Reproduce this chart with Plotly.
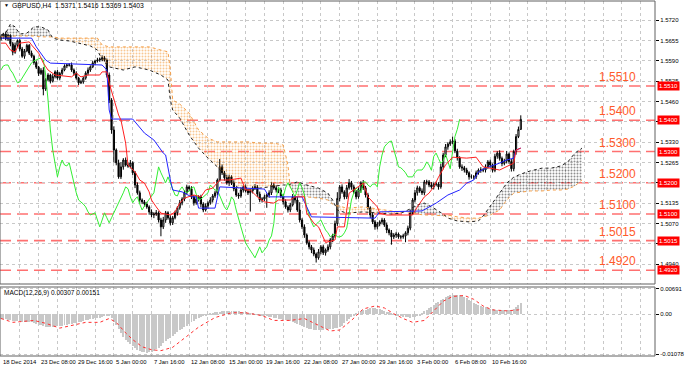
import plotly.graph_objects as go

# ---------------- data ----------------
close = [
    1.5668, 1.5676, 1.5660, 1.5672, 1.5645, 1.5618, 1.5640, 1.5655, 1.5628, 1.5605,
    1.5622, 1.5640, 1.5615, 1.5605, 1.5585, 1.5570, 1.5550, 1.5560, 1.5500, 1.5530,
    1.5545, 1.5525, 1.5540, 1.5555, 1.5535, 1.5550,
    1.5561, 1.5574, 1.5577, 1.5577, 1.5561, 1.5551, 1.5535, 1.5520, 1.5523, 1.5535,
    1.5551, 1.5561, 1.5571, 1.5584, 1.5590, 1.5593, 1.5596, 1.5600, 1.5593,
    1.5545, 1.5465, 1.5369, 1.5305, 1.5264, 1.5219, 1.5251, 1.5273, 1.5257, 1.5254,
    1.5264, 1.5232, 1.5193, 1.5168, 1.5145, 1.5139,
    1.5132, 1.5123, 1.5107, 1.5097, 1.5100, 1.5104, 1.5081, 1.5059, 1.5081, 1.5104,
    1.5088, 1.5072, 1.5088, 1.5104, 1.5120, 1.5136, 1.5148, 1.5168, 1.5187, 1.5181,
    1.5155, 1.5136, 1.5148, 1.5155, 1.5132, 1.5113, 1.5126, 1.5136, 1.5145, 1.5158,
    1.5168, 1.5209, 1.5251, 1.5232, 1.5216, 1.5200, 1.5219, 1.5200, 1.5181, 1.5161,
    1.5158, 1.5177, 1.5187, 1.5174, 1.5168, 1.5174, 1.5184, 1.5187, 1.5164, 1.5145,
    1.5148, 1.5155, 1.5161, 1.5168, 1.5193, 1.5184, 1.5177, 1.5177, 1.5158, 1.5139,
    1.5123, 1.5113, 1.5129, 1.5155, 1.5145, 1.5113, 1.5081, 1.5059, 1.5033, 1.5008,
    1.4995, 1.4985, 1.4972, 1.4960, 1.4979, 1.4995, 1.4976, 1.4985, 1.4995, 1.5017,
    1.5030, 1.5070, 1.5150, 1.5187, 1.5171, 1.5155, 1.5184, 1.5200, 1.5187, 1.5171,
    1.5155, 1.5177, 1.5200, 1.5184, 1.5161, 1.5120, 1.5097, 1.5075, 1.5059, 1.5068,
    1.5075, 1.5081, 1.5065, 1.5049, 1.5040, 1.5027, 1.5033, 1.5036, 1.5027, 1.5027,
    1.5030, 1.5040, 1.5055, 1.5104, 1.5145, 1.5168, 1.5184, 1.5174, 1.5168, 1.5203,
    1.5203, 1.5193, 1.5187, 1.5196, 1.5196, 1.5187, 1.5251, 1.5289, 1.5315, 1.5324,
    1.5331, 1.5334, 1.5302, 1.5280, 1.5251, 1.5248, 1.5241, 1.5232, 1.5219, 1.5219,
    1.5219, 1.5232, 1.5241, 1.5241, 1.5241, 1.5251, 1.5267,
    1.5257, 1.5240, 1.5285, 1.5295, 1.5278, 1.5262, 1.5270, 1.5292, 1.5268, 1.5245,
    1.5300, 1.5348, 1.5371, 1.5403,
]
first_open = 1.5660

# wick lengths in pips
upper_wick = [
    6, 4, 8, 5, 3, 6, 9, 4, 5, 7, 6, 5, 4, 8, 5, 6, 4, 7, 10, 5, 6, 4, 8, 5, 6, 5,
    7, 5, 4, 6, 8, 5, 6, 4, 7, 5, 6, 8, 5, 6, 4, 7, 5, 8, 6,
    5, 8, 6, 12, 5, 10, 15, 6, 8, 7, 9, 5, 6, 8, 7, 5,
    6, 7, 5, 8, 6, 9, 5, 7, 10, 6,
    5, 8, 6, 7, 5, 9, 6, 8, 7, 5,
    8, 6, 10, 5, 7, 6, 8, 5, 9, 6,
    7, 5, 25, 8, 6, 10, 7, 5, 8, 6,
    7, 9, 5, 8, 6, 7, 5, 9, 6, 8,
    6, 7, 5, 8, 10, 6, 8, 5, 7, 6,
    8, 5, 7, 9, 6, 10, 25, 6, 8, 5,
    7, 6, 8, 5, 9, 6, 7, 5, 8, 6,
    7, 9, 20, 6, 8, 5, 9, 12, 6, 7,
    6, 8, 5, 9, 6, 7, 5, 8, 6, 7,
    5, 7, 6, 8, 5, 9, 6, 7, 5, 6,
    7, 5, 8, 10, 6, 9, 7, 5, 8, 6,
    7, 6, 9, 5, 8, 6, 10, 7, 9, 6,
    8, 14, 6, 7, 5, 8, 6, 7, 5, 8,
    6, 7, 5, 9, 6, 8, 6,
    7, 5, 8, 6, 9, 6, 7, 10, 5, 8, 6, 8, 9, 13,
]
lower_wick = [
    5, 7, 4, 6, 8, 10, 5, 6, 7, 5, 8, 4, 6, 5, 7, 6, 8, 5, 20, 6, 5, 7, 4, 6, 5, 7,
    6, 4, 7, 5, 6, 8, 5, 7, 4, 6, 5, 7, 6, 4, 8, 5, 6, 7, 5,
    8, 10, 12, 40, 8, 6, 7, 9, 5, 6, 8, 7, 10, 6, 9, 7,
    8, 6, 9, 7, 10, 6, 8, 30, 7, 9,
    6, 8, 7, 5, 9, 6, 8, 7, 5, 8,
    7, 9, 6, 8, 10, 7, 5, 9, 6, 8,
    6, 8, 5, 7, 9, 6, 10, 7, 8, 6,
    9, 6, 8, 5, 7, 60, 8, 6, 9, 7,
    8, 6, 35, 9, 7, 6, 8, 10, 7, 9,
    6, 8, 7, 5, 9, 6, 8, 7, 9, 6,
    8, 10, 7, 15, 6, 8, 7, 9, 6, 8,
    7, 6, 8, 9, 6, 8, 7, 6, 9, 7,
    8, 6, 9, 7, 8, 6, 10, 7, 9, 8,
    7, 8, 6, 10, 8, 25, 7, 9, 6, 8,
    6, 20, 8, 7, 6, 8, 9, 6, 7, 8,
    9, 7, 6, 8, 7, 9, 6, 8, 7, 9,
    6, 8, 7, 9, 6, 10, 8, 7, 9, 6,
    8, 7, 6, 9, 7, 8, 6,
    9, 7, 6, 8, 7, 9, 6, 8, 7, 9, 8, 10, 5, 2,
]

tenkan_bar = [0, 2, 4, 6, 8, 12, 13, 16, 18, 20, 23, 28, 30, 32, 34, 37, 42, 43, 45, 46,
              48, 50, 51, 53, 54, 57, 59, 61, 63, 64, 66, 68, 72, 74, 76, 78, 82, 85, 87, 90,
              93, 97, 102, 104, 106, 109, 112, 116, 118, 123, 125, 129, 130, 133, 135, 138, 142, 143, 146, 147,
              148, 154, 156, 160, 161, 164, 175, 177, 180, 182, 184, 186, 189, 192, 198, 202, 205, 212, 215, 218,
              219, 221]
tenkan_val = [1.5647, 1.5647, 1.5625, 1.5619, 1.5647, 1.5651, 1.5641, 1.5615, 1.5583, 1.5561,
              1.5545, 1.5539, 1.5539, 1.5551, 1.5539, 1.5545, 1.5545, 1.5555, 1.5555, 1.5519,
              1.5465, 1.5417, 1.5401, 1.5327, 1.5257, 1.5235, 1.5209, 1.5199, 1.5171, 1.5145,
              1.5123, 1.5103, 1.5097, 1.5107, 1.5135, 1.5151, 1.5161, 1.5155, 1.5177, 1.5183,
              1.5209, 1.5209, 1.5215, 1.5177, 1.5177, 1.5155, 1.5139, 1.5135, 1.5145, 1.5145,
              1.5155, 1.5155, 1.5103, 1.5071, 1.5059, 1.5009, 1.5017, 1.5059, 1.5059, 1.5123,
              1.5167, 1.5199, 1.5155, 1.5123, 1.5103, 1.5097, 1.5097, 1.5123, 1.5155, 1.5167,
              1.5187, 1.5218, 1.5257, 1.5282, 1.5279, 1.5282, 1.5251, 1.5241, 1.5251, 1.5263,
              1.5305, 1.5311]

kijun_bar = [0, 13, 15, 19, 21, 43, 45, 46, 47, 56, 61, 65, 69, 70, 72, 73, 77, 81, 83, 84,
             91, 93, 112, 114, 128, 130, 132, 159, 161, 179, 185, 190, 195, 198, 201, 203, 206, 212, 215, 218,
             219, 221]
kijun_val = [1.5663, 1.5663, 1.5635, 1.5593, 1.5583, 1.5577, 1.5561, 1.5433, 1.5404, 1.5404,
             1.5359, 1.5337, 1.5295, 1.5289, 1.5209, 1.5177, 1.5171, 1.5155, 1.5155, 1.5119,
             1.5119, 1.5187, 1.5180, 1.5155, 1.5155, 1.5123, 1.5091, 1.5087, 1.5107, 1.5110,
             1.5135, 1.5161, 1.5177, 1.5199, 1.5209, 1.5235, 1.5247, 1.5263, 1.5273, 1.5279,
             1.5305, 1.5311]

cloud_bar = [0, 2, 4, 6, 8, 11, 14, 17, 20, 22, 25, 29, 33, 38, 41, 43, 46, 52, 57, 63,
             68, 71, 72, 73, 76, 80, 84, 88, 92, 97, 101, 105, 110, 116, 120, 122, 123, 126, 130, 135,
             139, 141, 143, 147, 154, 160, 166, 170, 173, 177, 180, 184, 188, 190, 194, 199, 203, 205, 208, 212,
             215, 218, 221, 225, 230, 234, 238, 241, 244, 247]
span_a = [1.5673, 1.5679, 1.5708, 1.5699, 1.5676, 1.5679, 1.5699, 1.5699, 1.5689, 1.5663,
          1.5657, 1.5654, 1.5647, 1.5638, 1.5625, 1.5593, 1.5571, 1.5561, 1.5571, 1.5561,
          1.5545, 1.5529, 1.5465, 1.5433, 1.5407, 1.5353, 1.5311, 1.5279, 1.5251, 1.5209,
          1.5183, 1.5177, 1.5183, 1.5190, 1.5193, 1.5193, 1.5196, 1.5203, 1.5193, 1.5183,
          1.5167, 1.5145, 1.5113, 1.5103, 1.5107, 1.5103, 1.5100, 1.5103, 1.5113, 1.5129,
          1.5135, 1.5119, 1.5100, 1.5087, 1.5078, 1.5075, 1.5078, 1.5094, 1.5127, 1.5167,
          1.5199, 1.5218, 1.5228, 1.5238, 1.5247, 1.5247, 1.5254, 1.5267, 1.5295, 1.5311]
span_b = [1.5667, 1.5667, 1.5667, 1.5670, 1.5670, 1.5670, 1.5670, 1.5667, 1.5667, 1.5667,
          1.5663, 1.5663, 1.5663, 1.5663, 1.5663, 1.5641, 1.5635, 1.5635, 1.5635, 1.5635,
          1.5625, 1.5619, 1.5561, 1.5465, 1.5452, 1.5423, 1.5369, 1.5343, 1.5331, 1.5331,
          1.5331, 1.5331, 1.5327, 1.5327, 1.5321, 1.5257, 1.5183, 1.5161, 1.5155, 1.5151,
          1.5145, 1.5132, 1.5127, 1.5119, 1.5123, 1.5116, 1.5110, 1.5107, 1.5107, 1.5100,
          1.5097, 1.5097, 1.5094, 1.5097, 1.5091, 1.5087, 1.5087, 1.5091, 1.5097, 1.5113,
          1.5145, 1.5167, 1.5171, 1.5174, 1.5174, 1.5177, 1.5177, 1.5180, 1.5190, 1.5209]

# MACD main (histogram), in units of 0.00001
macd_hist = [
    -114, -125, -140, -155, -166, -175, -182, -188, -192, -198,
    -204, -210, -214, -218, -240, -260, -285, -300, -320, -335,
    -345, -348, -345, -338, -330, -322, -310, -296, -282, -270,
    -258, -245, -232, -220, -205, -185, -165, -150, -135, -122,
    -110, -98, -88, -70, -50, -36, -55, -110, -200, -300,
    -400, -520, -620, -700, -760, -810, -860, -920, -960, -990,
    -1010, -1030, -1040, -1035, -1020, -990, -950, -900, -850, -790,
    -735, -680, -630, -590, -530, -480, -430, -390, -355, -320,
    -270, -220, -170, -120, -88, -60, -40, -20, -10, 10,
    30, 50, 65, 75, 85, 90, 92, 94, 94, 92,
    88, 82, 75, 68, 55, 42, 28, 16, 5, -10,
    -22, -30, -36, -50, -70, -85, -100, -110, -114, -130,
    -145, -158, -166, -190, -215, -240, -265, -295, -320, -345,
    -370, -385, -400, -412, -422, -426, -424, -418, -410, -404,
    -400, -390, -378, -362, -350, -310, -240, -185, -130, -70,
    -20, 15, 50, 80, 105, 130, 150, 165, 172, 165,
    155, 148, 130, 100, 75, 50, 25, -5, -25, -40,
    -55, -65, -72, -80, -88, -85, -60, -40, -20, 30,
    90, 120, 165, 210, 260, 295, 330, 380, 420, 460,
    490, 515, 535, 535, 528, 515, 505, 470, 430, 390,
    354, 320, 290, 260, 235, 210, 185, 160, 145, 135,
    125, 120, 118, 120, 118, 120, 115, 118, 150, 190,
    250, 307,
]
signal_bar = [0, 5, 14, 19, 25, 30, 36, 42, 46, 49, 53, 56, 60, 64, 68, 73, 78, 84, 91, 98,
              104, 111, 116, 123, 129, 135, 140, 144, 149, 154, 159, 163, 167, 171, 175, 180, 184, 188, 192, 197,
              201, 205, 209, 215, 220, 221]
signal_val = [-114, -218, -166, -244, -374, -296, -218, -218, -114, -218,
              -504, -686, -880, -960, -985, -894, -634, -348, -88, 42,
              42, -36, -166, -166, -114, -296, -452, -426, -166, 146,
              224, 172, 16, -114, -218, -166, 94, 354, 484, 510,
              406, 224, 120, 94, 120, 151]

levels = [1.5510, 1.5400, 1.5300, 1.5200, 1.5100, 1.5015, 1.4920]
price_ticks = [1.4875, 1.4940, 1.5005, 1.5070, 1.5135, 1.5200, 1.5265, 1.5330,
               1.5395, 1.5460, 1.5525, 1.5590, 1.5655, 1.5720]
price_ticktext = ["1.4875", "1.4940", "", "1.5070", "1.5135", "", "1.5265", "1.5330",
                  "", "1.5460", "1.5525", "1.5590", "1.5655", "1.5720"]
date_labels = ["18 Dec 2014", "23 Dec 08:00", "29 Dec 16:00", "5 Jan 00:00", "7 Jan 16:00",
               "12 Jan 08:00", "15 Jan 00:00", "19 Jan 16:00", "22 Jan 08:00", "27 Jan 00:00",
               "29 Jan 16:00", "3 Feb 00:00", "6 Feb 08:00", "10 Feb 16:00"]
date_label_bar = [0, 16, 32, 48, 64, 80, 96, 112, 128, 144, 160, 176, 192, 208]
macd_ticks = [0.00691, 0.0, -0.01078]
macd_ticktext = ["0.00691", "0.00", "-0.01078"]
title_text = "GBPUSD,H4  1.5371 1.5416 1.5369 1.5403"
macd_title = "MACD(12,26,9) 0.00307 0.00151"

# ---------------- build ----------------
W, H = 685, 369
ML, MR, MT, MB = 0, 25, 1, 13
PW, PH = W - ML - MR, H - MT - MB
main_bottom_px, macd_top_px = 284, 287
main_dom = [(MT + PH - main_bottom_px) / PH, 1.0]
macd_dom = [0.0, (MT + PH - macd_top_px) / PH]

FONT = "Liberation Sans"
n = len(close)
bars = list(range(n))
opens = [first_open] + close[:-1]
highs = [max(o, c) + u * 1e-4 for o, c, u in zip(opens, close, upper_wick)]
lows = [min(o, c) - d * 1e-4 for o, c, d in zip(opens, close, lower_wick)]

fig = go.Figure()

def cloud_regions(xs, a, b):
    regs = []
    sx, sa, sb = [], [], []
    prev = None
    for i in range(len(xs)):
        s = a[i] >= b[i]
        if prev is not None and s != prev:
            d0 = a[i - 1] - b[i - 1]
            d1 = a[i] - b[i]
            t = d0 / (d0 - d1)
            xc = xs[i - 1] + t * (xs[i] - xs[i - 1])
            yc = a[i - 1] + t * (a[i] - a[i - 1])
            sx.append(xc); sa.append(yc); sb.append(yc)
            regs.append((prev, sx, sa, sb))
            sx, sa, sb = [xc], [yc], [yc]
        sx.append(xs[i]); sa.append(a[i]); sb.append(b[i])
        prev = s
    regs.append((prev, sx, sa, sb))
    return regs

ORANGE = "#F5A04A"
for bull, sx, sa, sb in cloud_regions(cloud_bar, span_a, span_b):
    col = "#202020" if bull else "#F29228"
    fig.add_trace(go.Scatter(
        x=sx + sx[::-1], y=sa + sb[::-1], mode="lines", fill="toself",
        fillcolor="rgba(0,0,0,0)", line=dict(width=0, color=col),
        fillpattern=dict(shape=".", fgcolor=col, bgcolor="rgba(0,0,0,0)", size=3, solidity=0.33),
        hoverinfo="skip", xaxis="x", yaxis="y"))
fig.add_trace(go.Scatter(x=cloud_bar, y=span_b, mode="lines",
                         line=dict(color=ORANGE, width=1, dash="dot"), xaxis="x", yaxis="y"))
fig.add_trace(go.Scatter(x=cloud_bar, y=span_a, mode="lines",
                         line=dict(color="#202020", width=1, dash="dot"), xaxis="x", yaxis="y"))

# chikou (closes displaced 26 bars back)
fig.add_trace(go.Scatter(x=[i - 26 for i in bars[26:]], y=close[26:], mode="lines",
                         line=dict(color="#33EE33", width=1), xaxis="x", yaxis="y"))
fig.add_trace(go.Scatter(x=kijun_bar, y=kijun_val, mode="lines",
                         line=dict(color="#2222FF", width=1), xaxis="x", yaxis="y"))
fig.add_trace(go.Scatter(x=tenkan_bar, y=tenkan_val, mode="lines",
                         line=dict(color="#FF2020", width=1), xaxis="x", yaxis="y"))

fig.add_trace(go.Candlestick(
    x=bars, open=opens, high=highs, low=lows, close=close,
    increasing=dict(line=dict(color="black", width=1), fillcolor="white"),
    decreasing=dict(line=dict(color="black", width=1), fillcolor="black"),
    whiskerwidth=0, xaxis="x", yaxis="y", hoverinfo="skip"))

# MACD
fig.add_trace(go.Bar(x=bars, y=[v * 1e-5 for v in macd_hist], width=0.42,
                     marker=dict(color="#C8C8C8", line=dict(width=0)), xaxis="x2", yaxis="y2"))
fig.add_trace(go.Scatter(x=signal_bar, y=[v * 1e-5 for v in signal_val], mode="lines",
                         line=dict(color="#FF3030", width=1, dash="dot"), xaxis="x2", yaxis="y2"))

shapes = []
for lv in levels:
    shapes.append(dict(type="line", xref="paper", yref="y", x0=0, x1=1, y0=lv, y1=lv,
                       line=dict(color="#FF7070", width=1.6, dash="11px,6px"), layer="between"))
shapes.append(dict(type="rect", xref="paper", yref="paper", x0=0, x1=1, y0=main_dom[0], y1=1,
                   line=dict(color="#606060", width=1)))
shapes.append(dict(type="rect", xref="paper", yref="paper", x0=0, x1=1, y0=0, y1=macd_dom[1],
                   line=dict(color="#606060", width=1)))

annotations = []
def px_x(px):
    return (px - ML) / PW
def px_y(py):
    return (MT + PH - py) / PH

annotations.append(dict(x=px_x(2), y=px_y(5), xref="paper", yref="paper", text="▼",
                        showarrow=False, xanchor="left", yanchor="middle",
                        font=dict(size=5, color="black", family=FONT)))
annotations.append(dict(x=px_x(10), y=px_y(6), xref="paper", yref="paper", text=title_text,
                        showarrow=False, xanchor="left", yanchor="middle",
                        font=dict(size=6.8, color="black", family=FONT)))
annotations.append(dict(x=px_x(2), y=px_y(293), xref="paper", yref="paper", text=macd_title,
                        showarrow=False, xanchor="left", yanchor="middle",
                        font=dict(size=6.5, color="black", family=FONT)))
for lv in levels:
    annotations.append(dict(x=px_x(643), y=lv, xref="paper", yref="y", text=f"{lv:.4f}",
                            showarrow=False, xanchor="right", yanchor="bottom", yshift=0,
                            font=dict(size=12, color="#FF5A2A", family=FONT)))
    annotations.append(dict(x=px_x(662), y=lv, xref="paper", yref="y", text=f"{lv:.4f}",
                            showarrow=False, xanchor="left", yanchor="middle",
                            bgcolor="#FF0000", borderpad=1,
                            font=dict(size=6, color="white", family=FONT)))
for b, t in zip(date_label_bar, date_labels):
    annotations.append(dict(x=b, y=px_y(362), xref="x2", yref="paper", text=t,
                            showarrow=False, xanchor="left", yanchor="middle",
                            font=dict(size=5.85, color="black", family=FONT)))

x_range = [(0 - ML - 1) / 2.37, (PW - 1) / 2.37]
grid_ticks = list(range(0, 280, 8))
axis_common = dict(range=x_range, tickvals=grid_ticks, showticklabels=False, showgrid=True,
                   gridcolor="#C8C8C8", griddash="dot", gridwidth=1, zeroline=False,
                   ticks="", showline=False, fixedrange=True)
fig.update_layout(
    width=W, height=H, margin=dict(l=ML, r=MR, t=MT, b=MB),
    paper_bgcolor="white", plot_bgcolor="white", showlegend=False,
    font=dict(family=FONT, size=6.5, color="black"),
    xaxis=dict(domain=[0, 1], anchor="y", rangeslider=dict(visible=False), **axis_common),
    xaxis2=dict(domain=[0, 1], anchor="y2", matches="x", **axis_common),
    yaxis=dict(domain=main_dom, anchor="x", side="right",
               range=[1.5785 - 0.00032 * main_bottom_px, 1.5785 - 0.00032 * 1],
               tickvals=price_ticks, ticktext=price_ticktext,
               showgrid=True, gridcolor="#C8C8C8", griddash="dot", zeroline=False,
               ticks="outside", ticklen=3, tickcolor="black", tickfont=dict(size=6)),
    yaxis2=dict(domain=macd_dom, anchor="x2", side="right", range=[-0.0113, 0.0074],
                tickvals=macd_ticks, ticktext=macd_ticktext,
                showgrid=True, gridcolor="#C8C8C8", griddash="dot", zeroline=False,
                ticks="outside", ticklen=3, tickcolor="black", tickfont=dict(size=6)),
    shapes=shapes, annotations=annotations, bargap=0,
)

fig.write_html("out.html")
